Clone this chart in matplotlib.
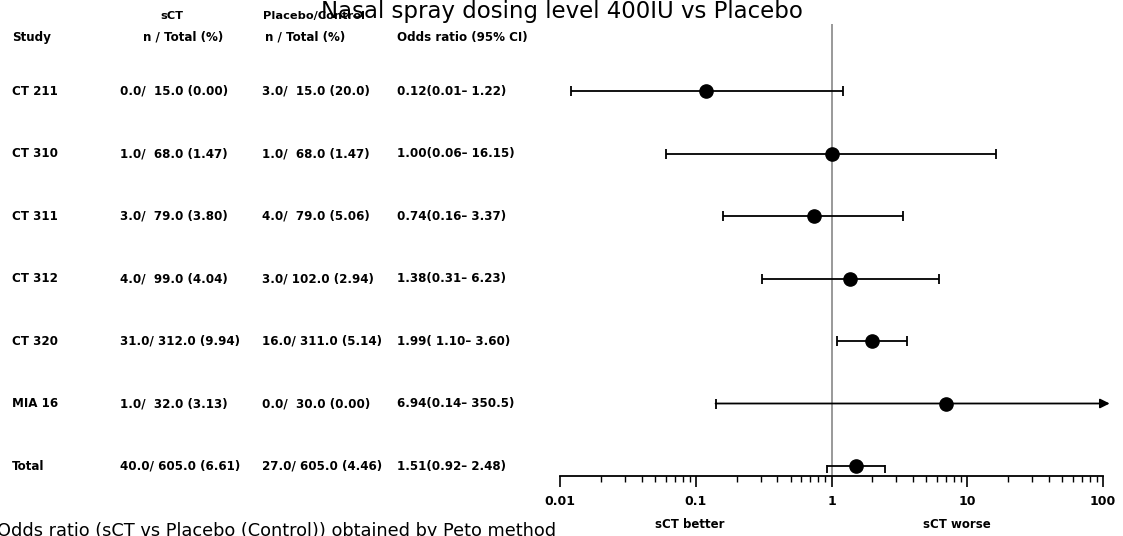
import numpy as np
import matplotlib.pyplot as plt
import matplotlib.transforms as mtransforms

studies = ["CT 211", "CT 310", "CT 311", "CT 312", "CT 320", "MIA 16", "Total"]
sct_txt = ["0.0/  15.0 (0.00)", "1.0/  68.0 (1.47)", "3.0/  79.0 (3.80)", "4.0/  99.0 (4.04)",
           "31.0/ 312.0 (9.94)", "1.0/  32.0 (3.13)", "40.0/ 605.0 (6.61)"]
ctl_txt = ["3.0/  15.0 (20.0)", "1.0/  68.0 (1.47)", "4.0/  79.0 (5.06)", "3.0/ 102.0 (2.94)",
           "16.0/ 311.0 (5.14)", "0.0/  30.0 (0.00)", "27.0/ 605.0 (4.46)"]
or_txt = ["0.12(0.01\u2013 1.22)", "1.00(0.06\u2013 16.15)", "0.74(0.16\u2013 3.37)", "1.38(0.31\u2013 6.23)",
          "1.99( 1.10\u2013 3.60)", "6.94(0.14\u2013 350.5)", "1.51(0.92\u2013 2.48)"]
odds = [0.12, 1.00, 0.74, 1.38, 1.99, 6.94, 1.51]
ci_lo = [0.012, 0.06, 0.16, 0.31, 1.10, 0.14, 0.92]
ci_hi = [1.22, 16.15, 3.37, 6.23, 3.60, 350.5, 2.48]
xticks = [0.01, 0.1, 1, 10, 100]
xtick_labels = ["0.01", "0.1", "1", "10", "100"]

W, H = 1123, 536
fig = plt.figure(figsize=(W / 100, H / 100), dpi=100)

# axes in pixel coords: x 0.01 -> 560, 100 -> 1103 ; y top 24, axis line 476
ax_l, ax_r, ax_t, ax_b = 560, 1103, 24, 476
ax = fig.add_axes([ax_l / W, 1 - ax_b / H, (ax_r - ax_l) / W, (ax_b - ax_t) / H])
ax.set_xscale("log")
ax.set_xlim(0.01, 100)
row0, step = 91, 62.5
ax.set_ylim((ax_b - row0) / step, (ax_t - row0) / step)

for sp in ["top", "left", "right"]:
    ax.spines[sp].set_visible(False)
ax.spines["bottom"].set_linewidth(1.3)
ax.set_yticks([])
ax.set_xticks(xticks)
ax.set_xticklabels(xtick_labels)
ax.tick_params(axis="x", which="major", length=8, width=1.2, pad=6, labelsize=9)
ax.tick_params(axis="x", which="minor", length=4, width=1.0)
for lab in ax.get_xticklabels():
    lab.set_fontweight("bold")

ax.axvline(1, color="#888888", lw=1.2, zorder=1)

cap = 0.08
for i in range(len(studies)):
    hi = ci_hi[i]
    if hi > 100:
        ax.annotate("", xy=(112, i), xytext=(ci_lo[i], i), annotation_clip=False,
                    arrowprops=dict(arrowstyle="-|>", color="black", lw=1.3,
                                    mutation_scale=14, shrinkA=0, shrinkB=0))
        ax.vlines(ci_lo[i], i - cap, i + cap, color="black", lw=1.3)
    else:
        ax.hlines(i, ci_lo[i], hi, color="black", lw=1.3)
        if studies[i] == "Total":
            ax.vlines([ci_lo[i], hi], i - 0.02, i + cap * 1.3, color="black", lw=1.3)
        else:
            ax.vlines([ci_lo[i], hi], i - cap, i + cap, color="black", lw=1.3)
    ax.plot(odds[i], i, "o", color="black", ms=9.5, zorder=3, clip_on=False)

# table text
trans = mtransforms.blended_transform_factory(fig.transFigure, ax.transData)
fs = 8.6
col_x = [12, 120, 262, 397]
for i in range(len(studies)):
    for cx, txt in zip(col_x, [studies[i], sct_txt[i], ctl_txt[i], or_txt[i]]):
        fig.text(cx / W, i, txt, transform=trans, fontsize=fs, fontweight="bold", va="center", ha="left")

hdr1 = (16 - row0) / step
hdr2 = (37 - row0) / step
fig.text(12 / W, hdr2, "Study", transform=trans, fontsize=fs, fontweight="bold", va="center")
fig.text(172 / W, hdr1, "sCT", transform=trans, fontsize=8.2, fontweight="bold", va="center", ha="center")
fig.text(143 / W, hdr2, "n / Total (%)", transform=trans, fontsize=fs, fontweight="bold", va="center")
fig.text(263 / W, hdr1, "Placebo/Control", transform=trans, fontsize=8.2, fontweight="bold", va="center")
fig.text(265 / W, hdr2, "n / Total (%)", transform=trans, fontsize=fs, fontweight="bold", va="center")
fig.text(397 / W, hdr2, "Odds ratio (95% CI)", transform=trans, fontsize=fs, fontweight="bold", va="center")

fig.text(0.5, 1 - 18 / H, "Nasal spray dosing level 400IU vs Placebo", fontsize=16.5,
         ha="center", va="baseline")
fig.text(690 / W, 1 - 525 / H, "sCT better", fontsize=8.5, fontweight="bold", ha="center", va="center")
fig.text(957 / W, 1 - 525 / H, "sCT worse", fontsize=8.5, fontweight="bold", ha="center", va="center")
fig.text(-3 / W, 1 - 522 / H, "Odds ratio (sCT vs Placebo (Control)) obtained by Peto method",
         fontsize=12.8, ha="left", va="top")

fig.savefig("out.png", dpi=100)
